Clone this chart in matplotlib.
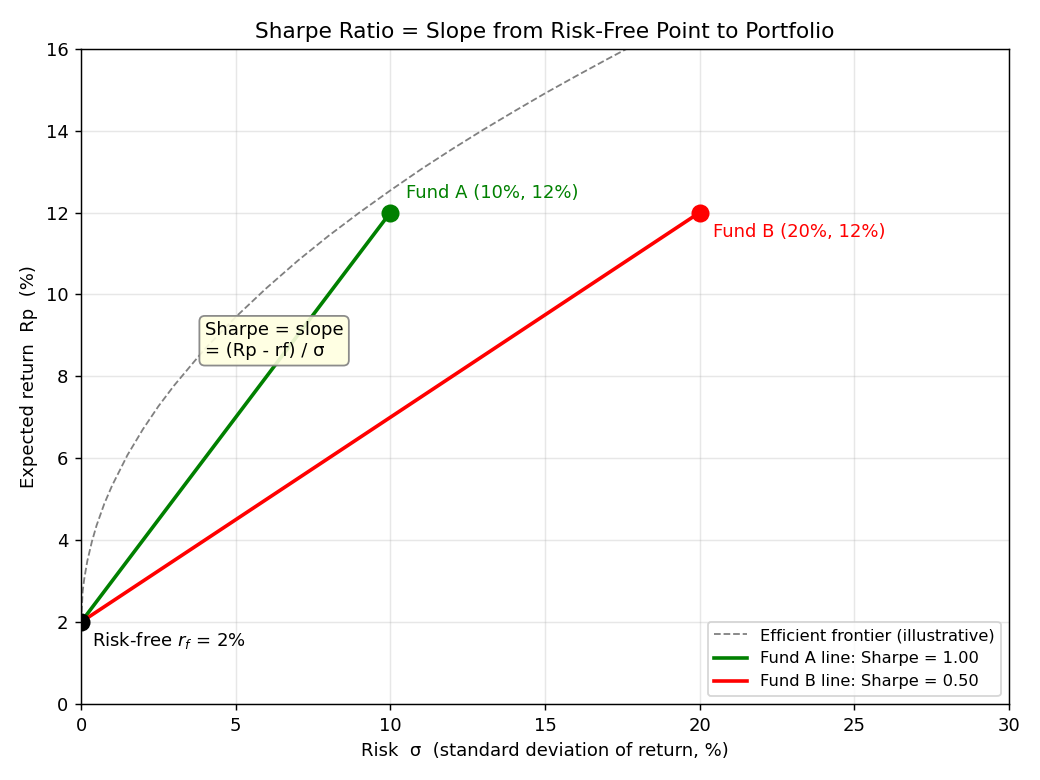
import matplotlib.pyplot as plt
import numpy as np

# values
rf = 2.0
fund_names = ["Fund A", "Fund B"]
fund_risk = [10.0, 20.0]
fund_return = [12.0, 12.0]
fund_colors = ["green", "red"]

# illustrative efficient frontier (estimated from the dashed curve)
frontier_risk = [0, 0.05, 0.1, 0.2, 0.35, 0.5, 0.75, 1, 1.5, 2, 2.5, 3, 4, 5,
                 6, 7, 8, 9, 10, 11, 12, 13, 14, 15, 16, 17, 18, 19, 20]
frontier_return = [2.0, 2.75, 3.05, 3.49, 3.97, 4.36, 4.89, 5.33, 6.08, 6.71,
                   7.27, 7.77, 8.67, 9.45, 10.16, 10.82, 11.43, 12.0, 12.54,
                   13.06, 13.55, 14.02, 14.47, 14.91, 15.33, 15.74, 16.14,
                   16.53, 16.91]

fig = plt.figure(figsize=(8, 6), dpi=130)
ax = fig.add_axes([0.078, 0.0975, 0.892, 0.84])

ax.plot(frontier_risk, frontier_return, linestyle="--", color="gray",
        linewidth=1, label="Efficient frontier (illustrative)")

for name, s, r, c in zip(fund_names, fund_risk, fund_return, fund_colors):
    sharpe = (r - rf) / s
    ax.plot([0, s], [rf, r], color=c, linewidth=2,
            label=f"{name} line: Sharpe = {sharpe:.2f}")
    ax.plot(s, r, "o", color=c, markersize=9, zorder=5)

ax.plot(0, rf, "o", color="black", markersize=9, zorder=6)

ax.text(fund_risk[0] + 0.5, fund_return[0] + 0.25,
        f"{fund_names[0]} ({fund_risk[0]:.0f}%, {fund_return[0]:.0f}%)",
        color="green", fontsize=10, va="bottom")
ax.text(fund_risk[1] + 0.45, fund_return[1] - 0.25,
        f"{fund_names[1]} ({fund_risk[1]:.0f}%, {fund_return[1]:.0f}%)",
        color="red", fontsize=10, va="top")
ax.text(0.35, rf - 0.2, r"Risk-free $r_f$ = 2%", fontsize=10, va="top")

ax.text(4.0, 8.87, "Sharpe = slope\n= (Rp - rf) / σ", fontsize=10,
        va="center", ha="left",
        bbox=dict(boxstyle="round,pad=0.3", facecolor="lightyellow",
                  edgecolor="gray", alpha=0.9))

ax.set_xlim(0, 30)
ax.set_ylim(0, 16)
ax.set_xticks(np.arange(0, 31, 5))
ax.set_yticks(np.arange(0, 17, 2))
ax.grid(True, alpha=0.3)
ax.set_xlabel("Risk  σ  (standard deviation of return, %)")
ax.set_ylabel("Expected return  Rp  (%)")
ax.set_title("Sharpe Ratio = Slope from Risk-Free Point to Portfolio")
ax.legend(loc="lower right", fontsize=9)

fig.savefig("out.png", dpi=130)
